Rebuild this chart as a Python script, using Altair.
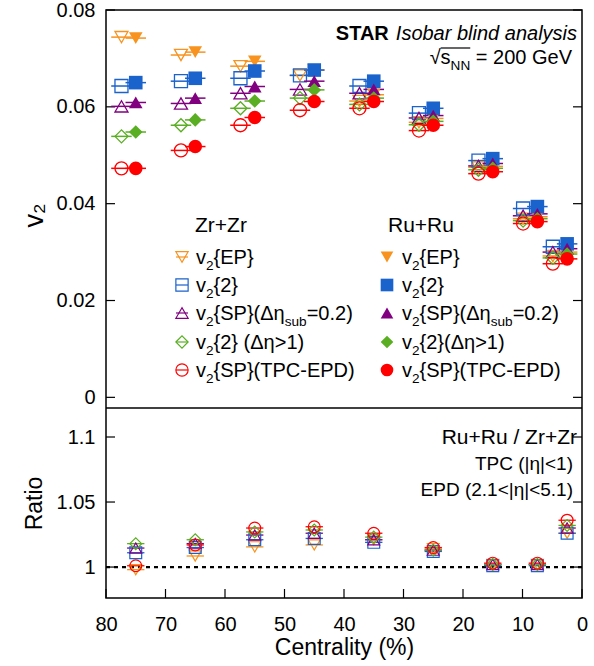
import altair as alt
import pandas as pd

FONT = "Liberation Sans"

# ---------------- data ----------------
centrality = [75, 65, 55, 45, 35, 25, 15, 7.5, 2.5]
methods = ["EP", "v22", "SP", "v22eta", "TPCEPD"]

zr_ep = [0.0744, 0.0707, 0.0684, 0.0665, 0.0612, 0.0568, 0.0475, 0.0369, 0.0292]
zr_v22 = [0.0643, 0.0653, 0.0659, 0.0665, 0.0643, 0.0587, 0.0489, 0.0390, 0.0311]
zr_sp = [0.0601, 0.0607, 0.0628, 0.0636, 0.0628, 0.0577, 0.0478, 0.0375, 0.0300]
zr_v22eta = [0.0539, 0.0562, 0.0597, 0.0618, 0.0605, 0.0563, 0.0470, 0.0365, 0.0288]
zr_tpcepd = [0.0473, 0.0510, 0.0562, 0.0593, 0.0597, 0.0551, 0.0462, 0.0359, 0.0276]

ru_ep = [0.0742, 0.0713, 0.0694, 0.0676, 0.0625, 0.0576, 0.0477, 0.0373, 0.0300]
ru_v22 = [0.0650, 0.0659, 0.0674, 0.0676, 0.0653, 0.0597, 0.0493, 0.0394, 0.0317]
ru_sp = [0.0609, 0.0618, 0.0642, 0.0653, 0.0636, 0.0582, 0.0483, 0.0379, 0.0307]
ru_v22eta = [0.0548, 0.0573, 0.0612, 0.0635, 0.0618, 0.0570, 0.0473, 0.0369, 0.0296]
ru_tpcepd = [0.0473, 0.0518, 0.0578, 0.0611, 0.0611, 0.0562, 0.0466, 0.0363, 0.0286]

ratio_ep = [0.998, 1.0085, 1.0155, 1.017, 1.021, 1.014, 1.002, 1.002, 1.026]
ratio_v22 = [1.011, 1.015, 1.021, 1.022, 1.019, 1.012, 1.001, 1.001, 1.026]
ratio_sp = [1.0146, 1.018, 1.0246, 1.026, 1.021, 1.013, 1.002, 1.002, 1.030]
ratio_v22eta = [1.018, 1.021, 1.027, 1.0285, 1.023, 1.013, 1.002, 1.002, 1.032]
ratio_tpcepd = [1.001, 1.017, 1.030, 1.031, 1.026, 1.015, 1.003, 1.003, 1.036]

x_ticks = [0, 10, 20, 30, 40, 50, 60, 70, 80]
v2_ticks = [0, 0.02, 0.04, 0.06, 0.08]
ratio_ticks = [1, 1.05, 1.1]
v2_domain = [-0.0022, 0.08]
ratio_domain = [0.9762, 1.1223]
zr_offset = 2.4

colors = ["#f7931e", "#1a62cc", "#800080", "#5aae22", "#ff0000"]
shapes = ["triangle-down", "square", "triangle-up", "diamond", "circle"]

zr_legend = [
    [("v", "n"), ("2", "s"), ("{EP}", "n")],
    [("v", "n"), ("2", "s"), ("{2}", "n")],
    [("v", "n"), ("2", "s"), ("{SP}(Δη", "n"), ("sub", "s"), ("=0.2)", "n")],
    [("v", "n"), ("2", "s"), ("{2} (Δη>1)", "n")],
    [("v", "n"), ("2", "s"), ("{SP}(TPC-EPD)", "n")],
]
ru_legend = [
    [("v", "n"), ("2", "s"), ("{EP}", "n")],
    [("v", "n"), ("2", "s"), ("{2}", "n")],
    [("v", "n"), ("2", "s"), ("{SP}(Δη", "n"), ("sub", "s"), ("=0.2)", "n")],
    [("v", "n"), ("2", "s"), ("{2}(Δη>1)", "n")],
    [("v", "n"), ("2", "s"), ("{SP}(TPC-EPD)", "n")],
]

# ---------------- tables ----------------
zr_all = [zr_ep, zr_v22, zr_sp, zr_v22eta, zr_tpcepd]
ru_all = [ru_ep, ru_v22, ru_sp, ru_v22eta, ru_tpcepd]
rt_all = [ratio_ep, ratio_v22, ratio_sp, ratio_v22eta, ratio_tpcepd]

zr_rows, ru_rows, rt_rows = [], [], []
for m, zs, rs, ts in zip(methods, zr_all, ru_all, rt_all):
    for c, a, b, t in zip(centrality, zs, rs, ts):
        zr_rows.append(dict(method=m, x=c + zr_offset, v=a))
        ru_rows.append(dict(method=m, x=c, v=b))
        rt_rows.append(dict(method=m, x=c, v=t))
zr_df = pd.DataFrame(zr_rows)
ru_df = pd.DataFrame(ru_rows)
rt_df = pd.DataFrame(rt_rows)

# ---------------- text helpers ----------------
W = {" ": 278, "(": 333, ")": 333, "+": 584, "-": 333, ".": 278, "/": 278,
     "<": 584, "=": 584, ">": 584, "{": 334, "}": 334, "|": 260, "C": 722,
     "D": 722, "E": 667, "G": 778, "N": 722, "P": 667, "R": 722, "S": 667,
     "T": 611, "V": 667, "Z": 611, "A": 722, "I": 278, "a": 556, "b": 556,
     "d": 556, "e": 556, "i": 222, "l": 222, "n": 556, "o": 556, "r": 333,
     "s": 500, "u": 556, "v": 500, "y": 500, "Δ": 668, "η": 556, "√": 549}


def text_w(s, size):
    return sum(W.get(ch, 556) for ch in s) * size / 1000.0


OX, OY = 106, 10  # plot origin in page pixels


def seg_rows(segs, x0, base, F, style="normal", right=False):
    sub = F * 0.68
    total = sum(text_w(t, F if k == "n" else sub) for t, k in segs)
    x = x0 - total if right else x0
    out = []
    for t, k in segs:
        sz = F if k == "n" else sub
        y = base if k == "n" else base + F * 0.28
        lead = len(t) - len(t.lstrip(" "))
        shown = t.strip(" ")
        if shown:
            out.append(dict(t=shown, x=x + text_w(" " * lead, sz) - OX, y=y - OY, sz=sz, st=style))
        x += text_w(t, sz)
    return out


ann = []
leg_y = [257, 285, 313, 342, 370]
for segs, ly in zip(zr_legend, leg_y):
    ann += seg_rows(segs, 196, ly + 7, 20)
for segs, ly in zip(ru_legend, leg_y):
    ann += seg_rows(segs, 402, ly + 7, 20)
ann += seg_rows([("Zr+Zr", "n")], 195, 232, 21)
ann += seg_rows([("Ru+Ru", "n")], 388, 232, 21)

# STAR header
ital = "Isobar blind analysis"
iw = text_w(ital, 20)
ann += seg_rows([(ital, "n")], 577 - iw, 40, 20, style="italic")
ann += seg_rows([("STAR ", "n")], 577 - iw, 40, 20, style="bold", right=True)
sq = seg_rows([("√", "n"), ("s", "n"), ("NN", "s"), (" = 200 GeV", "n")], 572, 64, 20, right=True)
ann += sq
ovl = pd.DataFrame([dict(x=sq[1]["x"], x2=sq[2]["x"] + text_w("NN", 20 * 0.68), y=64 - OY - 16)])

ann += seg_rows([("Ru+Ru / Zr+Zr", "n")], 577, 444, 21, right=True)
ann += seg_rows([("TPC (|η|<1)", "n")], 573, 470, 19, right=True)
ann += seg_rows([("EPD (2.1<|η|<5.1)", "n")], 573, 496, 19, right=True)
ann_df = pd.DataFrame(ann)

leg_rows = []
for m, ly in zip(methods, leg_y):
    leg_rows.append(dict(method=m, y=ly - OY))
leg_df = pd.DataFrame(leg_rows)

# ---------------- scales / axes ----------------
xs = alt.Scale(domain=[0, 80], reverse=True, nice=False, zero=False)
ys_top = alt.Scale(domain=v2_domain, range=[398, 0], nice=False, zero=False)
ys_bot = alt.Scale(domain=ratio_domain, range=[588, 398], nice=False, zero=False)
col = alt.Color("method:N", scale=alt.Scale(domain=methods, range=colors), legend=None)
shp = alt.Shape("method:N", scale=alt.Scale(domain=methods, range=shapes), legend=None)

x_axis = alt.Axis(values=x_ticks, tickSize=0, domain=False, grid=False, labelFontSize=20,
                  labelPadding=16, labelFlush=False, labelOverlap=False, orient="bottom",
                  title="Centrality (%)", titleFontSize=23, titleFontWeight="normal",
                  titlePadding=2)
top_axis = alt.Axis(values=v2_ticks, format=".2~f", tickSize=0, domain=False, grid=False,
                    labelFontSize=20, labelPadding=11, labelFlush=False, orient="left",
                    labelOverlap=False, titleY=205,
                    title="v₂", titleFontSize=27, titleFontWeight="normal", titlePadding=8)
bot_axis = alt.Axis(values=ratio_ticks, format=".2~f", tickSize=0, domain=False, grid=False,
                    labelFontSize=20, labelPadding=11, labelFlush=False, orient="left",
                    labelOverlap=False,
                    title="Ratio", titleFontSize=23, titleFontWeight="normal", titlePadding=10)

XS = lambda f: alt.X(f, scale=xs, axis=x_axis)
YT = lambda f: alt.Y(f, scale=ys_top, axis=top_axis)
YB = lambda f: alt.Y(f, scale=ys_bot, axis=bot_axis)
PX = lambda f: alt.X(f, scale=None, axis=None)
PY = lambda f: alt.Y(f, scale=None, axis=None)

# ---------------- top panel ----------------
tick_top = pd.DataFrame({"v": v2_ticks})
top_ticks_l = alt.Chart(tick_top).mark_rule(color="black", strokeWidth=1.2).encode(
    y=YT("v:Q"), x=alt.value(0), x2=alt.value(9))
top_ticks_r = alt.Chart(tick_top).mark_rule(color="black", strokeWidth=1.2).encode(
    y=YT("v:Q"), x=alt.value(467), x2=alt.value(476))

zr_bar = alt.Chart(zr_df).mark_point(shape="M-1,0L1,0", filled=False, size=420, strokeWidth=1.5, opacity=1).encode(
    x=XS("x:Q"), y=YT("v:Q"), color=col)
zr_pts = alt.Chart(zr_df).mark_point(filled=False, size=169, strokeWidth=1.3, opacity=1).encode(
    x=XS("x:Q"), y=YT("v:Q"), color=col, shape=shp)
ru_bar = alt.Chart(ru_df).mark_point(shape="M-1,0L1,0", filled=False, size=420, strokeWidth=1.5, opacity=1).encode(
    x=XS("x:Q"), y=YT("v:Q"), color=col)
ru_pts = alt.Chart(ru_df).mark_point(filled=True, size=185, opacity=1).encode(
    x=XS("x:Q"), y=YT("v:Q"), color=col, shape=shp)

leg_zr = alt.Chart(leg_df).mark_point(filled=False, size=150, strokeWidth=1.2, opacity=1).encode(
    x=alt.value(182 - OX), y=PY("y:Q"), color=col, shape=shp)
leg_zr_bar = alt.Chart(leg_df).mark_point(shape="M-1,0L1,0", filled=False, size=144, strokeWidth=1.2, opacity=1).encode(
    x=alt.value(182 - OX), y=PY("y:Q"), color=col)
leg_ru = alt.Chart(leg_df).mark_point(filled=True, size=160, opacity=1).encode(
    x=alt.value(387 - OX), y=PY("y:Q"), color=col, shape=shp)

top = alt.layer(top_ticks_l, top_ticks_r, zr_bar, zr_pts, ru_bar, ru_pts,
                leg_zr, leg_zr_bar, leg_ru)

# ---------------- bottom panel ----------------
tick_bot = pd.DataFrame({"v": ratio_ticks})
bot_ticks_l = alt.Chart(tick_bot).mark_rule(color="black", strokeWidth=1.2).encode(
    y=YB("v:Q"), x=alt.value(0), x2=alt.value(9))
bot_ticks_r = alt.Chart(tick_bot).mark_rule(color="black", strokeWidth=1.2).encode(
    y=YB("v:Q"), x=alt.value(467), x2=alt.value(476))
xt = alt.Chart(pd.DataFrame({"c": x_ticks})).mark_rule(color="black", strokeWidth=1.2).encode(
    x=XS("c:Q"), y=alt.value(588), y2=alt.value(579))
divider = alt.Chart(pd.DataFrame({"v": [ratio_domain[1]]})).mark_rule(color="black", strokeWidth=1.5).encode(
    y=YB("v:Q"))
unity = alt.Chart(pd.DataFrame({"v": [1.0]})).mark_rule(color="black", strokeWidth=2.2, strokeDash=[4, 4]).encode(
    y=YB("v:Q"))
rt_bar = alt.Chart(rt_df).mark_point(shape="M-1,0L1,0", filled=False, size=300, strokeWidth=1.3, opacity=1).encode(
    x=XS("x:Q"), y=YB("v:Q"), color=col)
rt_pts = alt.Chart(rt_df).mark_point(filled=False, size=140, strokeWidth=1.2, opacity=1).encode(
    x=XS("x:Q"), y=YB("v:Q"), color=col, shape=shp)

bottom = alt.layer(bot_ticks_l, bot_ticks_r, xt, divider, unity, rt_bar, rt_pts)

# ---------------- annotations ----------------
def txt_layer(style, weight):
    d = ann_df[ann_df["st"] == style]
    return alt.Chart(d).mark_text(align="left", baseline="alphabetic", font=FONT, color="black",
                                  fontStyle="italic" if style == "italic" else "normal",
                                  fontWeight=weight).encode(
        x=PX("x:Q"), y=PY("y:Q"), text="t:N", size=alt.Size("sz:Q", scale=None, legend=None))

ovl_rule = alt.Chart(ovl).mark_rule(color="black", strokeWidth=1.2).encode(
    x=PX("x:Q"), x2="x2", y=PY("y:Q"))

notes = alt.layer(txt_layer("normal", "normal"), txt_layer("italic", "normal"),
                  txt_layer("bold", "bold"), ovl_rule)

chart = alt.layer(top, bottom, notes).resolve_scale(y="independent").properties(
    width=476, height=588,
    autosize=alt.AutoSizeParams(type="none"),
    padding={"left": OX, "top": OY, "right": 12, "bottom": 68},
).configure_view(stroke="black", strokeWidth=1.5).configure_axis(
    labelFont=FONT, titleFont=FONT, labelColor="black", titleColor="black")

chart.save("out.html", embed_options={"renderer": "svg", "actions": False})
